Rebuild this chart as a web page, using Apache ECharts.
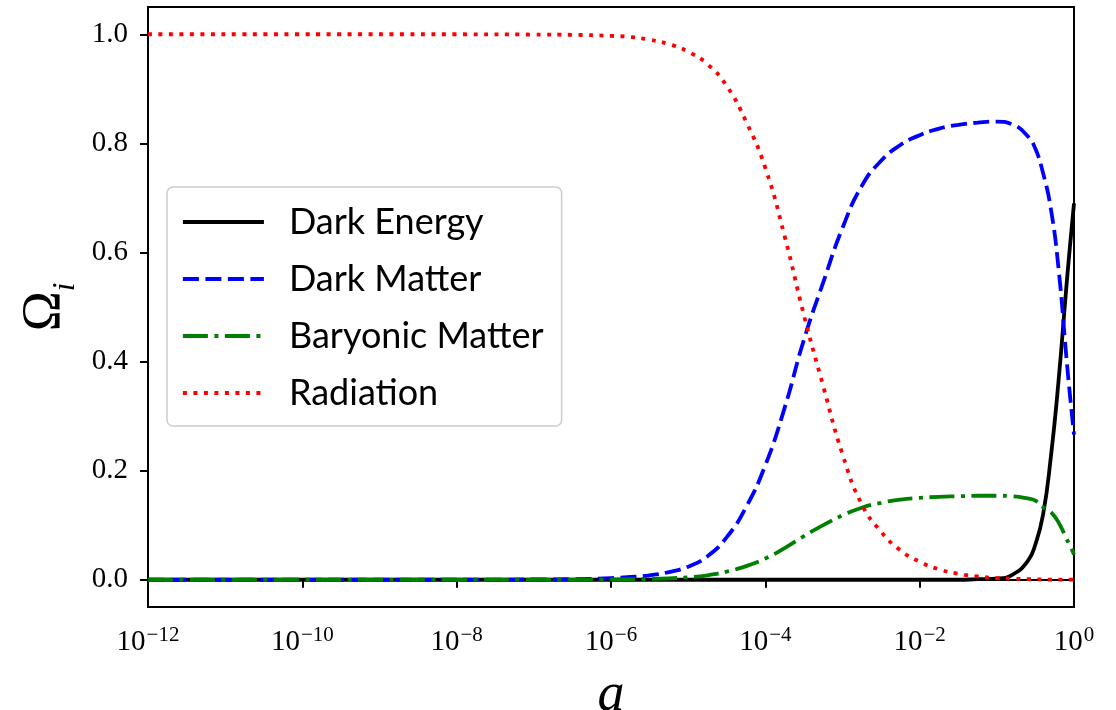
<!DOCTYPE html>
<html>
<head>
<meta charset="utf-8">
<script src="https://cdn.jsdelivr.net/npm/echarts@6.0.0/dist/echarts.min.js"></script>
<style>
html, body { margin: 0; padding: 0; background: #fff; }
#main { width: 1116px; height: 710px; }
</style>
</head>
<body>
<div id="main"></div>
<script>
// sample positions, given as log10(a)
var aExp = [-12, -10, -8, -7, -6.5, -6, -5.75, -5.5, -5.25, -5, -4.75, -4.5, -4.25, -4, -3.75, -3.5,
    -3.25, -3, -2.75, -2.5, -2.25, -2, -1.75, -1.5, -1.25, -1, -0.8, -0.6, -0.5, -0.4, -0.3, -0.2, -0.1, -0.05, 0];

var darkEnergy = [0, 0, 0, 0, 0, 0, 0, 0, 0, 0, 0, 0, 0, 0, 0, 0,
    0, 0, 0, 0, 0, 0, 0, 0, 0.001, 0.002, 0.009, 0.034, 0.065, 0.12, 0.225, 0.365, 0.535, 0.615, 0.69];

var darkMatter = [0, 0, 0, 0.0005, 0.001, 0.003, 0.005, 0.008, 0.014, 0.024, 0.043, 0.078, 0.133, 0.21, 0.315, 0.44,
    0.545, 0.645, 0.722, 0.768, 0.797, 0.815, 0.827, 0.834, 0.838, 0.84, 0.835, 0.813, 0.79, 0.745, 0.68, 0.57, 0.41, 0.335, 0.266];

var baryonicMatter = [0, 0, 0, 0.0001, 0.0002, 0.0006, 0.001, 0.0015, 0.0026, 0.0045, 0.008, 0.015, 0.025, 0.039, 0.058, 0.08,
    0.1, 0.118, 0.132, 0.141, 0.147, 0.15, 0.152, 0.153, 0.154, 0.154, 0.153, 0.149, 0.145, 0.133, 0.124, 0.105, 0.076, 0.062, 0.046];

var radiation = [1, 1, 1, 0.9995, 0.999, 0.997, 0.995, 0.99, 0.982, 0.968, 0.945, 0.905, 0.84, 0.755, 0.63, 0.485,
    0.355, 0.23, 0.138, 0.088, 0.054, 0.033, 0.019, 0.011, 0.006, 0.003, 0.002, 0.001, 0.0007, 0.0005, 0.0003, 0.0002, 0.0001, 0.0001, 0.0001];

var seriesNames = ['Dark Energy', 'Dark Matter', 'Baryonic Matter', 'Radiation'];
var xTickExp = [-12, -10, -8, -6, -4, -2, 0];
var yTicks = [0.0, 0.2, 0.4, 0.6, 0.8, 1.0];

var serif = 'Liberation Serif';

function toPairs(vals) {
    return aExp.map(function (e, i) {
        return [Math.pow(10, e), vals[i]];
    });
}

var xTickVals = xTickExp.map(function (e) { return Number('1e' + e); });

function makeLine(name, vals, color, dash) {
    return {
        name: name,
        type: 'line',
        data: toPairs(vals),
        symbol: 'none',
        symbolSize: 0,
        showSymbol: false,
        smooth: 0.5,
        color: color,
        lineStyle: { color: color, width: 3.8, type: dash, cap: 'butt' },
        emphasis: { disabled: true }
    };
}

var myChart = echarts.init(document.getElementById('main'));
var option = {
    animation: false,
    backgroundColor: '#fff',
    grid: {
        left: 148, right: 42, top: 7, bottom: 103,
        outerBoundsMode: 'none',
        containLabel: false,
        show: true, borderColor: '#000', borderWidth: 2, backgroundColor: 'transparent'
    },
    legend: {
        data: seriesNames,
        orient: 'vertical',
        left: 167,
        top: 187,
        itemWidth: 81,
        itemHeight: 14,
        itemGap: 21,
        padding: [17, 18, 15, 14],
        backgroundColor: 'rgba(255,255,255,0.8)',
        borderColor: '#cccccc',
        borderWidth: 1.5,
        borderRadius: 6,
        selectedMode: false,
        itemStyle: { opacity: 0 },
        lineStyle: { width: 3.8 },
        textStyle: { fontFamily: 'Lato', fontSize: 36, lineHeight: 36, color: '#000', padding: [0, 0, 0, 20] }
    },
    xAxis: {
        type: 'log',
        logBase: 10,
        min: 1e-12,
        max: 1,
        name: 'a',
        nameLocation: 'middle',
        nameGap: 62,
        nameTextStyle: { fontFamily: serif, fontStyle: 'italic', fontSize: 54, color: '#000' },
        axisLine: { lineStyle: { color: '#000', width: 2 } },
        axisTick: { customValues: xTickVals, length: 8, lineStyle: { color: '#000', width: 2 } },
        axisLabel: {
            customValues: xTickVals,
            margin: 20,
            formatter: function (v) {
                var e = Math.round(Math.log(v) / Math.LN10);
                return '{b|10}{s|' + (e < 0 ? '\u2212' + (-e) : e) + '}';
            },
            rich: {
                b: { fontFamily: serif, fontSize: 29, color: '#000', verticalAlign: 'bottom', lineHeight: 30 },
                s: { fontFamily: serif, fontSize: 21, color: '#000', verticalAlign: 'bottom', lineHeight: 21, padding: [0, 0, 11, 1] }
            }
        },
        splitLine: { show: false }
    },
    yAxis: {
        type: 'value',
        min: -0.05,
        max: 1.05,
        name: '{o|\u03A9}{s|i}',
        nameLocation: 'middle',
        nameRotate: 90,
        nameGap: 72,
        nameTextStyle: {
            rich: {
                o: { fontFamily: serif, fontSize: 54, color: '#000', verticalAlign: 'top', lineHeight: 54 },
                s: { fontFamily: serif, fontStyle: 'italic', fontSize: 31, color: '#000', verticalAlign: 'top', lineHeight: 31, padding: [32, 0, 0, 0] }
            }
        },
        axisLine: { show: true, lineStyle: { color: '#000', width: 2 } },
        axisTick: { show: true, customValues: yTicks, length: 8, lineStyle: { color: '#000', width: 2 } },
        axisLabel: {
            customValues: yTicks,
            margin: 20,
            fontFamily: serif,
            fontSize: 29,
            color: '#000',
            formatter: function (v) { return v.toFixed(1); }
        },
        splitLine: { show: false }
    },
    series: [
        makeLine('Dark Energy', darkEnergy, '#000000', 'solid'),
        makeLine('Dark Matter', darkMatter, '#0000ff', [16, 6.5]),
        makeLine('Baryonic Matter', baryonicMatter, '#008000', [25, 6.5, 4, 6.5]),
        makeLine('Radiation', radiation, '#ff0000', [4, 6.5])
    ]
};
myChart.setOption(option);
</script>
</body>
</html>
